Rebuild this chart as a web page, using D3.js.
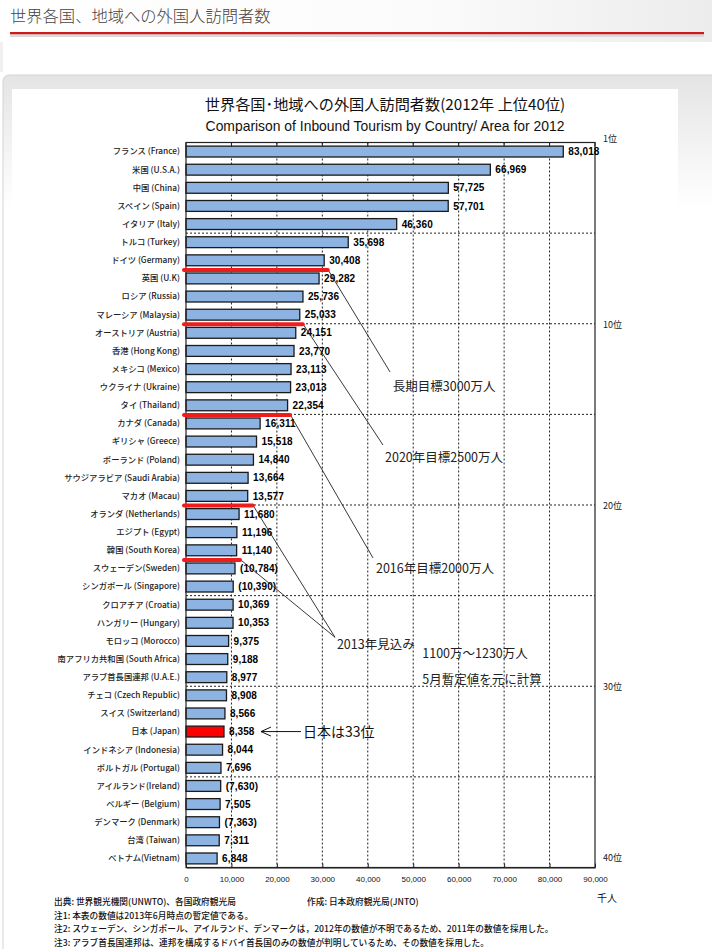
<!DOCTYPE html>
<html><head><meta charset="utf-8">
<script src="https://cdn.jsdelivr.net/npm/d3@7"></script>
<style>html,body{margin:0;padding:0;background:#fff;}svg{display:block;}</style>
</head><body>
<svg id="c" width="712" height="949"></svg>
<script>
// ---- data ----
const categories = [
 "フランス (France)","米国 (U.S.A.)","中国 (China)","スペイン (Spain)","イタリア (Italy)",
 "トルコ (Turkey)","ドイツ (Germany)","英国 (U.K)","ロシア (Russia)","マレーシア (Malaysia)",
 "オーストリア (Austria)","香港 (Hong Kong)","メキシコ (Mexico)","ウクライナ (Ukraine)","タイ (Thailand)",
 "カナダ (Canada)","ギリシャ (Greece)","ポーランド (Poland)","サウジアラビア (Saudi Arabia)","マカオ (Macau)",
 "オランダ (Netherlands)","エジプト (Egypt)","韓国 (South Korea)","スウェーデン(Sweden)","シンガポール (Singapore)",
 "クロアチア (Croatia)","ハンガリー (Hungary)","モロッコ (Morocco)","南アフリカ共和国 (South Africa)","アラブ首長国連邦 (U.A.E.)",
 "チェコ (Czech Republic)","スイス (Switzerland)","日本 (Japan)","インドネシア (Indonesia)","ポルトガル (Portugal)",
 "アイルランド(Ireland)","ベルギー (Belgium)","デンマーク (Denmark)","台湾 (Taiwan)","ベトナム(Vietnam)"
];
const visitors = [
 83018,66969,57725,57701,46360,
 35698,30408,29282,25736,25033,
 24151,23770,23113,23013,22354,
 16311,15518,14840,13664,13577,
 11680,11196,11140,10784,10390,
 10369,10353,9375,9188,8977,
 8908,8566,8358,8044,7696,
 7630,7505,7363,7311,6848
];
// values from 2011 (shown in parentheses)
const estimated = ["スウェーデン(Sweden)","シンガポール (Singapore)","アイルランド(Ireland)","デンマーク (Denmark)"];
const highlight = "日本 (Japan)";
const xTicks = [0,10000,20000,30000,40000,50000,60000,70000,80000,90000];
const rankLabels = [{rank:1,text:"1位"},{rank:10,text:"10位"},{rank:20,text:"20位"},{rank:30,text:"30位"},{rank:40,text:"40位"}];
// target lines: drawn under the given row, to a given value
const targetRows = ["ドイツ (Germany)","マレーシア (Malaysia)","タイ (Thailand)","マカオ (Macau)","韓国 (South Korea)"];
const targetEnds = [31200,25700,22900,14700,11900];
const targetTexts = ["長期目標3000万人","2020年目標2500万人","2016年目標2000万人"];
const forecastTexts = ["2013年見込み","1100万～1230万人","5月暫定値を元に計算"];
const notes = [
 "注1:  本表の数値は2013年6月時点の暫定値である。",
 "注2:  スウェーデン、シンガポール、アイルランド、デンマークは，2012年の数値が不明であるため、2011年の数値を採用した。",
 "注3:  アラブ首長国連邦は、連邦を構成するドバイ首長国のみの数値が判明しているため、その数値を採用した。"
];

const JP = "'Noto Sans CJK JP','Noto Sans',sans-serif";
const NUM = "'Liberation Sans',Arial,sans-serif";
const svg = d3.select("#c");
const defs = svg.append("defs");

// ---- page chrome ----
const hg = defs.append("linearGradient").attr("id","hg").attr("x1",0).attr("x2",1).attr("y1",0).attr("y2",0);
hg.append("stop").attr("offset","0").attr("stop-color","#ffffff");
hg.append("stop").attr("offset","0.6").attr("stop-color","#fbfbfb");
hg.append("stop").attr("offset","1").attr("stop-color","#ececec");
svg.append("rect").attr("x",0).attr("y",0).attr("width",712).attr("height",42).attr("fill","url(#hg)");
svg.append("text").attr("x",10).attr("y",22).attr("font-family",JP).attr("font-size",16.3).attr("font-weight",300)
  .attr("fill","#444").text("世界各国、地域への外国人訪問者数");
svg.append("rect").attr("x",10).attr("y",34).attr("width",694).attr("height",3).attr("fill","#d9d9d9");
svg.append("rect").attr("x",10).attr("y",32).attr("width",694).attr("height",2.2).attr("fill","#cc1a1a");
svg.append("rect").attr("x",0).attr("y",42).attr("width",3).attr("height",30).attr("fill","#f0f0f0");

const bg = defs.append("linearGradient").attr("id","bg").attr("x1",0).attr("x2",0).attr("y1",0).attr("y2",1);
bg.append("stop").attr("offset","0").attr("stop-color","#e4e4e4");
bg.append("stop").attr("offset","0.07").attr("stop-color","#f1f1f1");
bg.append("stop").attr("offset","0.15").attr("stop-color","#ffffff");
bg.append("stop").attr("offset","1").attr("stop-color","#ffffff");
svg.append("rect").attr("x",3).attr("y",75).attr("width",720).attr("height",890).attr("rx",6)
  .attr("fill","url(#bg)").attr("stroke","#d4d4d4");
svg.append("rect").attr("x",12).attr("y",89).attr("width",666).attr("height",870).attr("fill","#fff");

// ---- titles ----
svg.append("text").attr("x",385).attr("y",110).attr("text-anchor","middle").attr("font-family",JP)
  .attr("font-size",15.2).attr("fill","#111").text("世界各国･地域への外国人訪問者数(2012年 上位40位)");
svg.append("text").attr("x",385).attr("y",131).attr("text-anchor","middle").attr("font-family",NUM)
  .attr("font-size",13.9).attr("fill","#111").text("Comparison of Inbound Tourism by Country/ Area for 2012");

// ---- scales ----
const x = d3.scaleLinear().domain([0,90000]).range([186,595]);
const y = d3.scaleBand().domain(categories).range([142.5,867.5]).paddingInner(0.4).paddingOuter(0.2);
const step = y.step();
const boundary = i => y.range()[0] + i*step;
const yTop = y.range()[0], yBot = y.range()[1];

const g = svg.append("g");
// grid
g.selectAll(".vg").data(xTicks.filter(t=>t>0 && t<90000)).join("line")
  .attr("x1",d=>x(d)).attr("x2",d=>x(d)).attr("y1",yTop).attr("y2",yBot)
  .attr("stroke","#222").attr("stroke-width",1).attr("stroke-dasharray","2,2");
g.selectAll(".hg").data(d3.range(5,40,5)).join("line")
  .attr("x1",x(0)).attr("x2",x(90000)).attr("y1",d=>boundary(d)).attr("y2",d=>boundary(d))
  .attr("stroke","#222").attr("stroke-width",1).attr("stroke-dasharray","2,2");

// bars
g.selectAll(".bar").data(categories).join("rect")
  .attr("x",x(0)).attr("y",d=>y(d)).attr("height",y.bandwidth())
  .attr("width",(d,i)=>x(visitors[i])-x(0))
  .attr("fill",d=>d===highlight?"#ff0000":"#8db3e2")
  .attr("stroke","#1a1a1a").attr("stroke-width",1.3);

// frame
svg.append("rect").attr("x",x(0)).attr("y",yTop).attr("width",x(90000)-x(0)).attr("height",yBot-yTop)
  .attr("fill","none").attr("stroke","#222").attr("stroke-width",1.2);
// bottom axis
const ax = svg.append("g").attr("transform",`translate(0,${yBot})`)
  .call(d3.axisBottom(x).tickValues(xTicks).tickFormat(d3.format(",")).tickSizeInner(-4).tickSizeOuter(0).tickPadding(9));
ax.select(".domain").attr("stroke","#222");
ax.selectAll(".tick line").attr("stroke","#222");
ax.selectAll("text").attr("font-family",NUM).attr("font-size",8).attr("fill","#111");
// top tick marks
svg.append("g").selectAll("line").data(xTicks).join("line")
  .attr("x1",d=>x(d)).attr("x2",d=>x(d)).attr("y1",yTop).attr("y2",yTop+4).attr("stroke","#222");
svg.append("text").attr("x",597).attr("y",902).attr("font-family",JP).attr("font-size",10).attr("fill","#111").text("千人");

// category labels
svg.append("g").selectAll("text").data(categories).join("text")
  .attr("x",x(0)-6).attr("y",d=>y(d)+y.bandwidth()/2).attr("dy","0.35em").attr("text-anchor","end")
  .attr("font-family",JP).attr("font-size",8.3).attr("font-weight",500).attr("fill","#222").text(d=>d);

// value labels
svg.append("g").selectAll("text").data(categories).join("text")
  .attr("x",(d,i)=>x(visitors[i])+5).attr("y",d=>y(d)+y.bandwidth()/2).attr("dy","0.36em")
  .attr("font-family",NUM).attr("font-size",10).attr("font-weight","bold").attr("fill","#000")
  .attr("letter-spacing",0.1)
  .text((d,i)=>{const s=d3.format(",")(visitors[i]);return estimated.includes(d)?"("+s+")":s;});

// rank labels
svg.append("g").selectAll("text").data(rankLabels).join("text")
  .attr("x",603)
  .attr("y",d=>d.rank===1?yTop-1:(d.rank===40?boundary(39)+y.step()/2+3:boundary(d.rank)+4))
  .attr("font-family",JP).attr("font-size",9).attr("fill","#222").text(d=>d.text);

// ---- annotations ----
const ann = svg.append("g");
const leaderEnds = [[44900, 12.66],[43350, 16.69],[41150, 22.92]]; // [value, row position]
const textPos = [[45500, 13.7],[43800, 17.62],[41800, 23.77]];
[0,1,2].forEach(k=>{
  const r = categories.indexOf(targetRows[k])+1;
  ann.append("line").attr("x1",x(targetEnds[k])).attr("y1",boundary(r))
    .attr("x2",x(leaderEnds[k][0])).attr("y2",boundary(leaderEnds[k][1]))
    .attr("stroke","#222").attr("stroke-width",0.9);
  ann.append("text").attr("x",x(textPos[k][0])).attr("y",boundary(textPos[k][1]))
    .attr("font-family",JP).attr("font-size",12.5).attr("fill","#222").text(targetTexts[k]);
});
[3,4].forEach(k=>{
  const r = categories.indexOf(targetRows[k])+1;
  ann.append("line").attr("x1",x(targetEnds[k])).attr("y1",boundary(r))
    .attr("x2",x(32800)).attr("y2",boundary(27.3))
    .attr("stroke","#222").attr("stroke-width",0.9);
});
ann.append("text").attr("x",x(33200)).attr("y",boundary(27.95)).attr("font-family",JP).attr("font-size",12.5).attr("fill","#222").text(forecastTexts[0]);
ann.append("text").attr("x",x(52000)).attr("y",boundary(28.45)).attr("font-family",JP).attr("font-size",12.5).attr("fill","#222").text(forecastTexts[1]);
ann.append("text").attr("x",x(52000)).attr("y",boundary(29.85)).attr("font-family",JP).attr("font-size",12.5).attr("fill","#222").text(forecastTexts[2]);

// red target lines
ann.selectAll(".red").data(targetRows).join("line")
  .attr("x1",x(0)-2).attr("x2",(d,i)=>x(targetEnds[i]))
  .attr("y1",d=>boundary(categories.indexOf(d)+1)+0.5).attr("y2",d=>boundary(categories.indexOf(d)+1)+0.5)
  .attr("stroke","#ee1c1c").attr("stroke-width",4).attr("stroke-linecap","round");

// Japan arrow
const jy = y(highlight)+y.bandwidth()/2;
const jx = x(8358)+37;
ann.append("line").attr("x1",jx).attr("x2",jx+40).attr("y1",jy).attr("y2",jy).attr("stroke","#111").attr("stroke-width",1);
ann.append("path").attr("d",`M${jx+10},${jy-4.5}L${jx},${jy}L${jx+10},${jy+4.5}`).attr("fill","none").attr("stroke","#111").attr("stroke-width",1);
ann.append("text").attr("x",jx+42).attr("y",jy).attr("dy","0.36em").attr("font-family",JP).attr("font-size",14).attr("fill","#111").text("日本は33位");

// ---- footer ----
const ft = svg.append("g").attr("font-family",JP).attr("font-size",8.7).attr("font-weight",500).attr("fill","#111");
ft.append("text").attr("x",54).attr("y",905).text("出典:  世界観光機関(UNWTO)、各国政府観光局");
ft.append("text").attr("x",307).attr("y",905).text("作成:  日本政府観光局(JNTO)");
ft.selectAll(".n").data(notes).join("text").attr("x",54).attr("y",(d,i)=>919+i*13.3).text(d=>d);
</script>
</body></html>
